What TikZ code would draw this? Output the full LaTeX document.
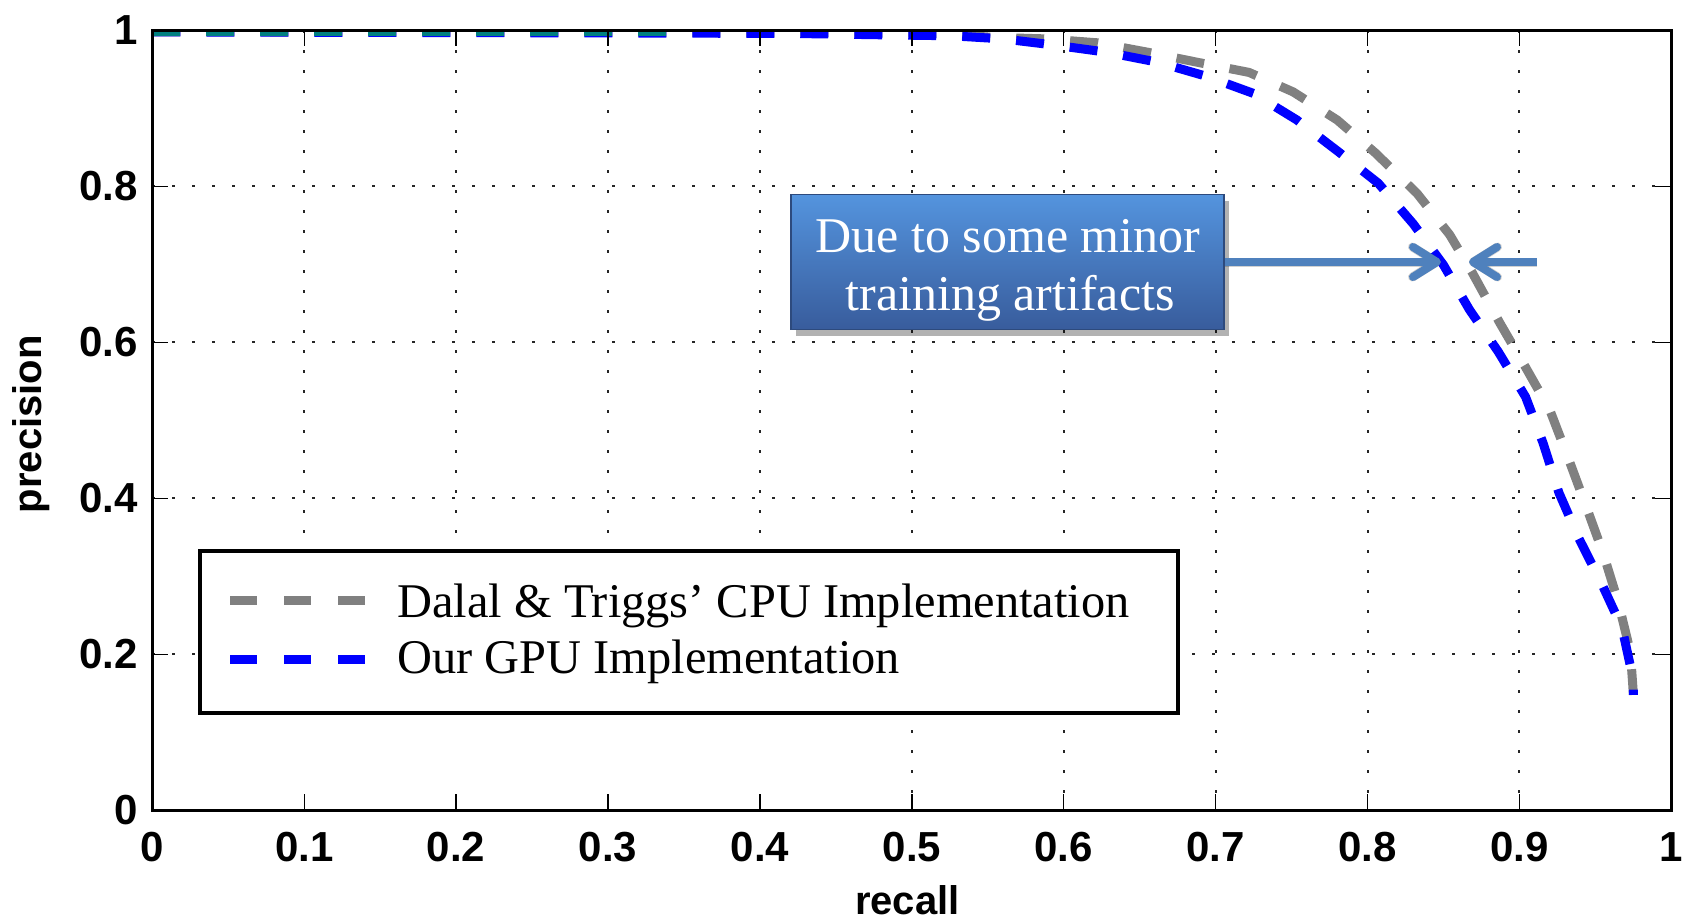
\documentclass[tikz,border=0pt]{standalone}
\usepackage{fontspec}
\setmainfont{Liberation Serif}
\newfontfamily\plotsans{Liberation Sans}
\usetikzlibrary{arrows.meta,shadows}

\definecolor{cpugray}{RGB}{128,128,128}
\definecolor{gpublue}{RGB}{0,0,255}
\definecolor{startteal}{RGB}{0,128,128}
\definecolor{calloutblue}{RGB}{79,129,189}
\definecolor{boxtop}{RGB}{84,148,222}
\definecolor{boxmid}{RGB}{62,122,200}
\definecolor{boxbot}{RGB}{56,92,156}

\begin{document}
\begin{tikzpicture}[x=0.5pt,y=-0.5pt,
  gridline/.style={black!85,line width=1pt,dash pattern=on 1.2pt off 8.8pt},
  axistick/.style={black,line width=0.7pt},
  axisframe/.style={black,line width=1.3pt},
  curve/.style={line width=4.5pt,line cap=butt,line join=round,dash pattern=on 14pt off 13pt},
  ticklab/.style={inner sep=0pt,font=\plotsans\bfseries\fontsize{21pt}{25pt}\selectfont},
  axislab/.style={inner sep=0pt,font=\plotsans\bfseries\fontsize{20pt}{24pt}\selectfont},
  legendbox/.style={draw=black,line width=2pt,fill=white,inner sep=0pt,
    minimum width=489pt,minimum height=81pt},
  legendline/.style={line width=4.5pt,line cap=butt,dash pattern=on 13.5pt off 13.5pt},
  legtext/.style={inner sep=0pt,font=\fontsize{24.2pt}{28pt}\selectfont},
  notebox/.style={draw=boxbot!80!black,line width=0.6pt,inner sep=0pt,
    top color=boxtop,middle color=boxmid,bottom color=boxbot,
    minimum width=216.5pt,minimum height=67.5pt,
    drop shadow={shadow xshift=2.5pt,shadow yshift=-3pt,opacity=0.3,fill=black}},
  notetext/.style={inner sep=0pt,text=white,font=\fontsize{25pt}{29pt}\selectfont},
  callout/.style={calloutblue,line width=4pt,
    -{Straight Barb[length=12pt,width=15pt,round]}},
  calloutshade/.style={black,opacity=0.18,line width=4.5pt,
    -{Straight Barb[length=12pt,width=15pt,round]}},
]
\useasboundingbox (0,0) rectangle (1694,923);
\fill[white] (0,0) rectangle (1694,923);

% ---- plot area: recall on x, precision on y ----
\begin{scope}[shift={(152.3,810.3)},x=759.55pt,y=390pt]
  % dotted grid
  \foreach \g in {0.1,0.2,0.3,0.4}
    \draw[gridline] (\g,1) -- (\g,0.332);
  \foreach \g in {0.5,0.6,0.7,0.8,0.9}
    \draw[gridline] (\g,1) -- (\g,0);
  \foreach \g in {0.2,0.4,0.6,0.8}
    \draw[gridline] (0,\g) -- (1,\g);

  % precision-recall curves
  \begin{scope}
    \clip (0,0) rectangle (1,1);
    \draw[curve,cpugray] plot coordinates {
      (0,0.998) (0.46,0.997) (0.517,0.996) (0.553,0.991) (0.588,0.989)
      (0.622,0.984) (0.655,0.972) (0.688,0.959) (0.722,0.946) (0.751,0.921)
      (0.780,0.885) (0.805,0.843) (0.8325,0.791) (0.854,0.738) (0.869,0.689)
      (0.887,0.625) (0.904,0.568) (0.920,0.513) (0.932,0.452) (0.944,0.389)
      (0.955,0.330) (0.965,0.267) (0.973,0.203) (0.975,0.148)};
    \draw[curve,gpublue] plot coordinates {
      (0,0.998) (0.42,0.996) (0.488,0.994) (0.526,0.993) (0.560,0.989)
      (0.594,0.981) (0.628,0.972) (0.662,0.959) (0.694,0.941) (0.725,0.919)
      (0.7535,0.885) (0.781,0.844) (0.807,0.804) (0.830,0.752) (0.850,0.699)
      (0.867,0.642) (0.886,0.588) (0.904,0.530) (0.9155,0.471) (0.926,0.407)
      (0.939,0.349) (0.954,0.291) (0.9675,0.234) (0.975,0.167) (0.975,0.148)};
    \draw[curve,startteal] (0,0.998) -- (0.345,0.998);
  \end{scope}

  % inward ticks on all four sides
  \foreach \t in {0.1,0.2,0.3,0.4,0.5,0.6,0.7,0.8,0.9} {
    \draw[axistick] (\t,0) -- ++(0,8pt);
    \draw[axistick] (\t,1) -- ++(0,-8pt);
  }
  \foreach \t in {0.2,0.4,0.6,0.8} {
    \draw[axistick] (0,\t) -- ++(8pt,0);
    \draw[axistick] (1,\t) -- ++(-8pt,0);
  }
  \draw[axisframe] (0,0) rectangle (1,1);

  % tick labels
  \foreach \t in {0,0.1,0.2,0.3,0.4,0.5,0.6,0.7,0.8,0.9,1}
    \node[ticklab,anchor=north,yshift=-10.85pt] at (\t,0) {\t};
  \foreach \t in {0,0.2,0.4,0.6,0.8,1}
    \node[ticklab,anchor=east,xshift=-7.15pt] at (0,\t) {\t};

  % axis titles
  \node[axislab,anchor=base] (xlabel) at ([yshift=-52pt]0.497,0) {recall};
  \node[axislab,rotate=90] (ylabel) at ([xshift=-60.4pt]0,0.495) {precision};
\end{scope}

% ---- legend ----
\node[legendbox] (legend) at (689,632) {};
\coordinate (cpuA) at (230,600);
\coordinate (cpuB) at (366,600);
\coordinate (gpuA) at (230,659);
\coordinate (gpuB) at (366,659);
\draw[legendline,cpugray] (cpuA) -- (cpuB);
\draw[legendline,gpublue] (gpuA) -- (gpuB);
\node[legtext,anchor=base west] (cputext) at (397,617) {Dalal \& Triggs’ CPU Implementation};
\node[legtext,anchor=base west] (gputext) at (397,673) {Our GPU Implementation};

% ---- callout box and arrows ----
\node[notebox] (note) at (1007.5,262) {};
\node[notetext,anchor=base] (noteA) at (1008,252) {Due to some minor};
\node[notetext,anchor=base] (noteB) at (1010,310) {training artifacts};

\coordinate (tipR) at (1441,262);
\coordinate (tailL) at (1537,262);
\coordinate (tipL) at (1469,262);
\draw[calloutshade,xshift=1.5pt,yshift=-2.5pt] (note.east) -- (tipR);
\draw[calloutshade,xshift=1.5pt,yshift=-2.5pt] (tailL) -- (tipL);
\draw[callout] (note.east) -- (tipR);
\draw[callout] (tailL) -- (tipL);
\end{tikzpicture}
\end{document}
